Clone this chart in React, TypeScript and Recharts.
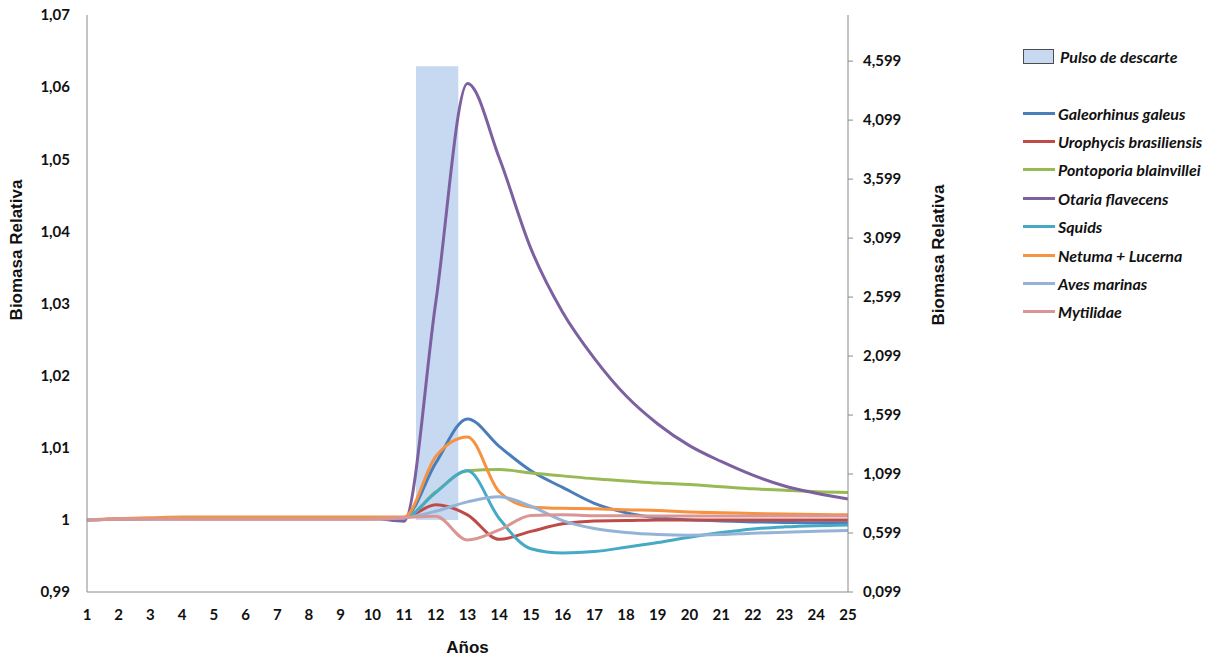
import { LineChart, Line, XAxis, YAxis, ReferenceArea, Label } from "recharts";

// years of the simulation
const years = [1, 2, 3, 4, 5, 6, 7, 8, 9, 10, 11, 12, 13, 14, 15, 16, 17, 18, 19, 20, 21, 22, 23, 24, 25];

// relative biomass per group
const galeorhinus = [1, 1.0001, 1.0002, 1.0002, 1.0002, 1.0002, 1.0002, 1.0002, 1.0002, 1.0002, 1.0003, 1.0079, 1.014, 1.0102, 1.0068, 1.0045, 1.0023, 1.001, 1.0003, 1.0, 0.99986, 0.99972, 0.99965, 0.9996, 0.9996];
const urophycis = [1, 1.0001, 1.0002, 1.0002, 1.0002, 1.0002, 1.0002, 1.0002, 1.0002, 1.0002, 1.0003, 1.0021, 1.0007, 0.9973, 0.9984, 0.99945, 0.99986, 0.9999, 1.0, 1.0, 1.0, 1.0, 1.0, 1.0, 1.0];
const pontoporia = [1, 1.0001, 1.0002, 1.0002, 1.0002, 1.0002, 1.0002, 1.0002, 1.0002, 1.0002, 1.0003, 1.0039, 1.0068, 1.007, 1.0065, 1.0061, 1.0057, 1.0054, 1.0051, 1.0049, 1.0046, 1.0043, 1.0041, 1.0039, 1.0038];
const otaria = [1, 1.0001, 1.0002, 1.0002, 1.0002, 1.0002, 1.0002, 1.0002, 1.0002, 1.0002, 0.9998, 1.0302, 1.0605, 1.0502, 1.0376, 1.0288, 1.0224, 1.0172, 1.0133, 1.0103, 1.0081, 1.0062, 1.0047, 1.0037, 1.0029];
const squids = [1, 1.0001, 1.0002, 1.0002, 1.0002, 1.0002, 1.0002, 1.0002, 1.0002, 1.0002, 1.0003, 1.0038, 1.0068, 1.0002, 0.996, 0.9954, 0.9956, 0.9962, 0.99685, 0.9976, 0.99824, 0.99875, 0.99903, 0.9992, 0.9993];
const netuma = [1, 1.0002, 1.0003, 1.0004, 1.0004, 1.0004, 1.0004, 1.0004, 1.0004, 1.0004, 1.0004, 1.0088, 1.0115, 1.0039, 1.0018, 1.0016, 1.00155, 1.0014, 1.0013, 1.0011, 1.001, 1.0009, 1.0008, 1.00076, 1.0007];
const aves = [1, 1.0001, 1.0001, 1.0001, 1.0001, 1.0001, 1.0001, 1.0001, 1.0001, 1.0001, 1.0003, 1.0012, 1.0025, 1.0032, 1.0019, 0.9999, 0.9988, 0.99824, 0.99796, 0.99787, 0.99796, 0.99815, 0.99829, 0.99843, 0.99852];
const mytilidae = [1, 1.0001, 1.0001, 1.0001, 1.0001, 1.0001, 1.0001, 1.0001, 1.0001, 1.0001, 1.0003, 1.0005, 0.9972, 0.9986, 1.0006, 1.0007, 1.00058, 1.00056, 1.00055, 1.00055, 1.00055, 1.00055, 1.00055, 1.00055, 1.00055];

// discard pulse (years, relative biomass)
const pulseYears = [11.375, 12.71];
const pulseRange = [1, 1.0629];

const leftTicks = [0.99, 1.0, 1.01, 1.02, 1.03, 1.04, 1.05, 1.06, 1.07];
const rightTicks = [0.099, 0.599, 1.099, 1.599, 2.099, 2.599, 3.099, 3.599, 4.099, 4.599];

const series = [
  { key: "galeorhinus", name: "Galeorhinus galeus", color: "#4a7ebb", values: galeorhinus },
  { key: "urophycis", name: "Urophycis brasiliensis", color: "#be4b48", values: urophycis },
  { key: "pontoporia", name: "Pontoporia blainvillei", color: "#98b954", values: pontoporia },
  { key: "otaria", name: "Otaria flavecens", color: "#7d60a0", values: otaria },
  { key: "squids", name: "Squids", color: "#46aac5", values: squids },
  { key: "netuma", name: "Netuma + Lucerna", color: "#f69240", values: netuma },
  { key: "aves", name: "Aves marinas", color: "#95b3d7", values: aves },
  { key: "mytilidae", name: "Mytilidae", color: "#d99694", values: mytilidae },
];

const data = years.map((year, i) => {
  const row: Record<string, number> = { year };
  series.forEach((s) => (row[s.key] = s.values[i]));
  return row;
});

const tickFont = { fontFamily: "Lato, sans-serif", fontWeight: 700, fontSize: 15, fill: "#111" };
const titleFont = { fontFamily: "'Liberation Sans', Arial, sans-serif", fontWeight: 700, fontSize: 17, fill: "#111" };
const axisColor = "#8a8a8a";

const fmtLeft = (v: number) => (Math.abs(v - 1) < 1e-9 ? "1" : v.toFixed(2).replace(".", ","));
const fmtRight = (v: number) => v.toFixed(3).replace(".", ",");

// legend sits to the right of the plot, outside the svg
const LegendBox = () => (
  <div
    style={{
      position: "absolute",
      left: 1023,
      top: 42,
      fontFamily: "Lato, sans-serif",
      fontWeight: 700,
      fontStyle: "italic",
      fontSize: 16,
      color: "#111",
      whiteSpace: "nowrap",
    }}
  >
    <div style={{ display: "flex", alignItems: "center", height: 28 }}>
      <span style={{ width: 29, height: 13, background: "#c6d9f1", border: "1px solid #4d4d4d", marginRight: 6 }} />
      Pulso de descarte
    </div>
    <div style={{ height: 29 }} />
    {series.map((s) => (
      <div key={s.key} style={{ display: "flex", alignItems: "center", height: 28.4 }}>
        <span style={{ width: 32, height: 3, background: s.color, marginRight: 3 }} />
        {s.name}
      </div>
    ))}
  </div>
);

export default function App() {
  return (
    <div style={{ position: "absolute", left: 0, top: 0, width: 1215, height: 660, background: "#fff" }}>
      <LineChart width={1215} height={660} data={data} margin={{ top: 15, right: 257, bottom: 0, left: 0 }}>
        <XAxis
          dataKey="year"
          type="number"
          domain={[1, 25]}
          ticks={years}
          interval={0}
          tickLine={false}
          tickSize={0}
          tickMargin={17}
          stroke={axisColor}
          tick={tickFont}
          height={68}
        >
          <Label value="Años" position="insideBottom" offset={7} style={titleFont} />
        </XAxis>
        <YAxis
          yAxisId="left"
          domain={[0.99, 1.07]}
          ticks={leftTicks}
          allowDataOverflow
          tickFormatter={fmtLeft}
          tickLine={false}
          tickSize={0}
          tickMargin={17}
          stroke={axisColor}
          tick={tickFont}
          width={87}
        >
          <Label
            content={() => (
              <text x={22} y={250} transform="rotate(-90 22 250)" textAnchor="middle" style={titleFont}>
                Biomasa Relativa
              </text>
            )}
          />
        </YAxis>
        <YAxis
          yAxisId="right"
          orientation="right"
          domain={[0.099, 4.99]}
          ticks={rightTicks}
          allowDataOverflow
          tickFormatter={fmtRight}
          tickSize={5}
          tickMargin={10}
          stroke={axisColor}
          tick={{ ...tickFont, textAnchor: "start" }}
          width={110}
        >
          <Label
            content={() => (
              <text x={944} y={255} transform="rotate(-90 944 255)" textAnchor="middle" style={titleFont}>
                Biomasa Relativa
              </text>
            )}
          />
        </YAxis>
        <ReferenceArea
          yAxisId="left"
          x1={pulseYears[0]}
          x2={pulseYears[1]}
          y1={pulseRange[0]}
          y2={pulseRange[1]}
          fill="#c6d9f1"
          fillOpacity={1}
          stroke="none"
        />
        {series.map((s) => (
          <Line
            key={s.key}
            yAxisId="left"
            type="monotone"
            dataKey={s.key}
            name={s.name}
            stroke={s.color}
            strokeWidth={3}
            dot={false}
            activeDot={false}
            isAnimationActive={false}
          />
        ))}
      </LineChart>
      <LegendBox />
    </div>
  );
}
